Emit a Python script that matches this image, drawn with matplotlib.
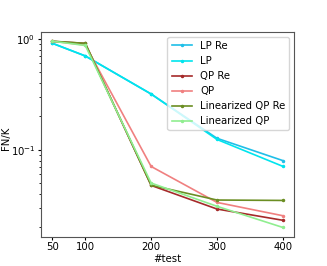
import matplotlib
matplotlib.use("Agg")
import matplotlib.pyplot as plt

n_test = [50, 100, 200, 300, 400]

lp_re = [0.91, 0.70, 0.318, 0.127, 0.080]
lp = [0.91, 0.70, 0.318, 0.124, 0.071]
qp_re = [0.947, 0.909, 0.0478, 0.0293, 0.0232]
qp = [0.95, 0.878, 0.0708, 0.0336, 0.0255]
lin_qp_re = [0.95, 0.909, 0.048, 0.0353, 0.0350]
lin_qp = [0.95, 0.87, 0.0502, 0.031, 0.020]

series = [
    ("LP Re", lp_re, "#1fbfe8"),
    ("LP", lp, "#00e5ee"),
    ("QP Re", qp_re, "#a52a2a"),
    ("QP", qp, "#f08080"),
    ("Linearized QP Re", lin_qp_re, "#6b8e23"),
    ("Linearized QP", lin_qp, "#90ee90"),
]

plt.rcParams["font.size"] = 7.3

fig, ax = plt.subplots(figsize=(3.27, 2.66), dpi=100)
for label, vals, color in series:
    ax.plot(n_test, vals, marker=".", markersize=3, lw=1.2, color=color, label=label)

ax.set_yscale("log")
ax.set_xticks(n_test)
ax.tick_params(which="major", length=2, pad=2)
ax.tick_params(which="minor", length=1.2)
for sp in ax.spines.values():
    sp.set_color("#555555")
ax.set_xlabel("#test", labelpad=1)
ax.set_ylabel("FN/K")
ax.yaxis.set_label_coords(-0.118, 0.48)
ax.legend(loc="upper right", fontsize=7.3)

fig.savefig("out.png")
